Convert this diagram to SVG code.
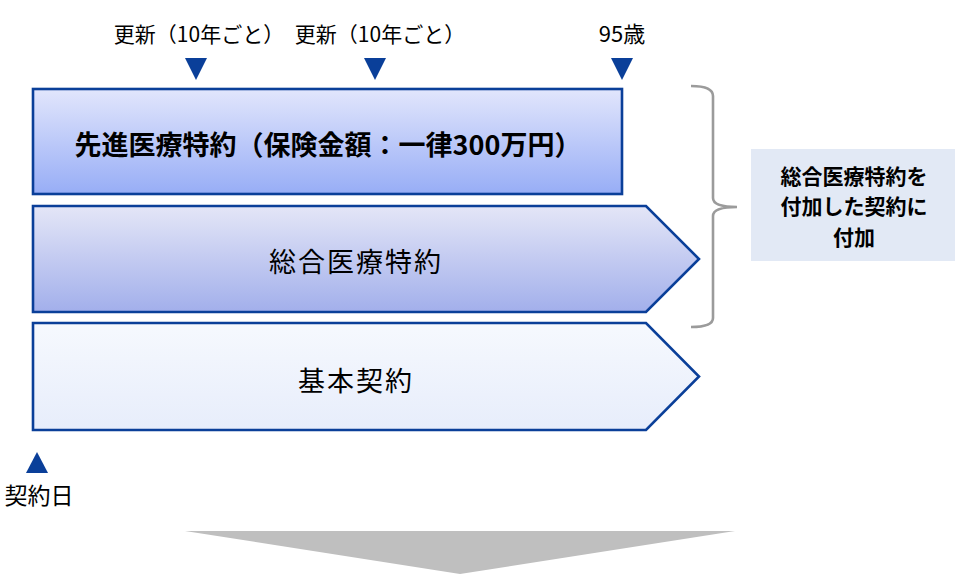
<svg xmlns="http://www.w3.org/2000/svg" width="955" height="574" viewBox="0 0 955 574">
<defs>
<linearGradient id="g1" x1="0" y1="0" x2="0" y2="1"><stop offset="0" stop-color="#e2e6fc"/><stop offset="1" stop-color="#97adf6"/></linearGradient>
<linearGradient id="g2" x1="0" y1="0" x2="0" y2="1"><stop offset="0" stop-color="#e4e6f7"/><stop offset="1" stop-color="#a2afeb"/></linearGradient>
<linearGradient id="g3" x1="0" y1="0" x2="0" y2="1"><stop offset="0" stop-color="#f6f9fe"/><stop offset="1" stop-color="#e7edfb"/></linearGradient>
<style>
.box{stroke:#0a3f99;stroke-width:2.6;stroke-linejoin:miter}
.t{font-family:"Noto Sans CJK JP","Liberation Sans",sans-serif;fill:#000;text-anchor:middle}
.mk{fill:#0a3f99}
</style>
</defs>
<g id="markers">
<polygon class="mk" points="185,58 207,58 196,80"/>
<polygon class="mk" points="364,58 386,58 375,80"/>
<polygon class="mk" points="611,58 633,58 622,80"/>
<polygon class="mk" points="26,473 48,473 37,452"/>
</g>
<g id="labels">
<text class="t" x="199" y="42" font-size="21">更新（10年ごと）</text>
<text class="t" x="380" y="42" font-size="21">更新（10年ごと）</text>
<text class="t" x="622" y="42" font-size="22">95歳</text>
<text class="t" x="39" y="504" font-size="23">契約日</text>
</g>
<g id="node-senshin">
<rect class="box" x="33" y="89" width="589" height="105" fill="url(#g1)"/>
<text class="t" x="328" y="155" font-size="27" font-weight="bold">先進医療特約（保険金額：一律300万円）</text>
</g>
<g id="node-sogo">
<polygon class="box" points="33,206 646,206 699,259 646,312 33,312" fill="url(#g2)"/>
<text class="t" x="356" y="272" font-size="27" letter-spacing="2">総合医療特約</text>
</g>
<g id="node-kihon">
<polygon class="box" points="33,323 646,323 699,376.5 646,430 33,430" fill="url(#g3)"/>
<text class="t" x="356" y="391" font-size="27" letter-spacing="2">基本契約</text>
</g>
<g id="connectors">
<path d="M691,86 Q713,86 713,96 L713,198 Q713,207 737,207 Q713,207 713,216 L713,318 Q713,327 691,327" fill="none" stroke="#9b9b9b" stroke-width="2.6"/>
</g>
<g id="node-note">
<rect x="751" y="149" width="204" height="112" fill="#e2e9f5"/>
<text class="t" font-size="21" font-weight="bold"><tspan x="854" y="183.5">総合医療特約を</tspan><tspan x="854" y="214">付加した契約に</tspan><tspan x="854" y="244.5">付加</tspan></text>
</g>
<g id="arrow-down">
<polygon points="185,531 735,531 460,574" fill="#bfbfbf"/>
</g>
</svg>
